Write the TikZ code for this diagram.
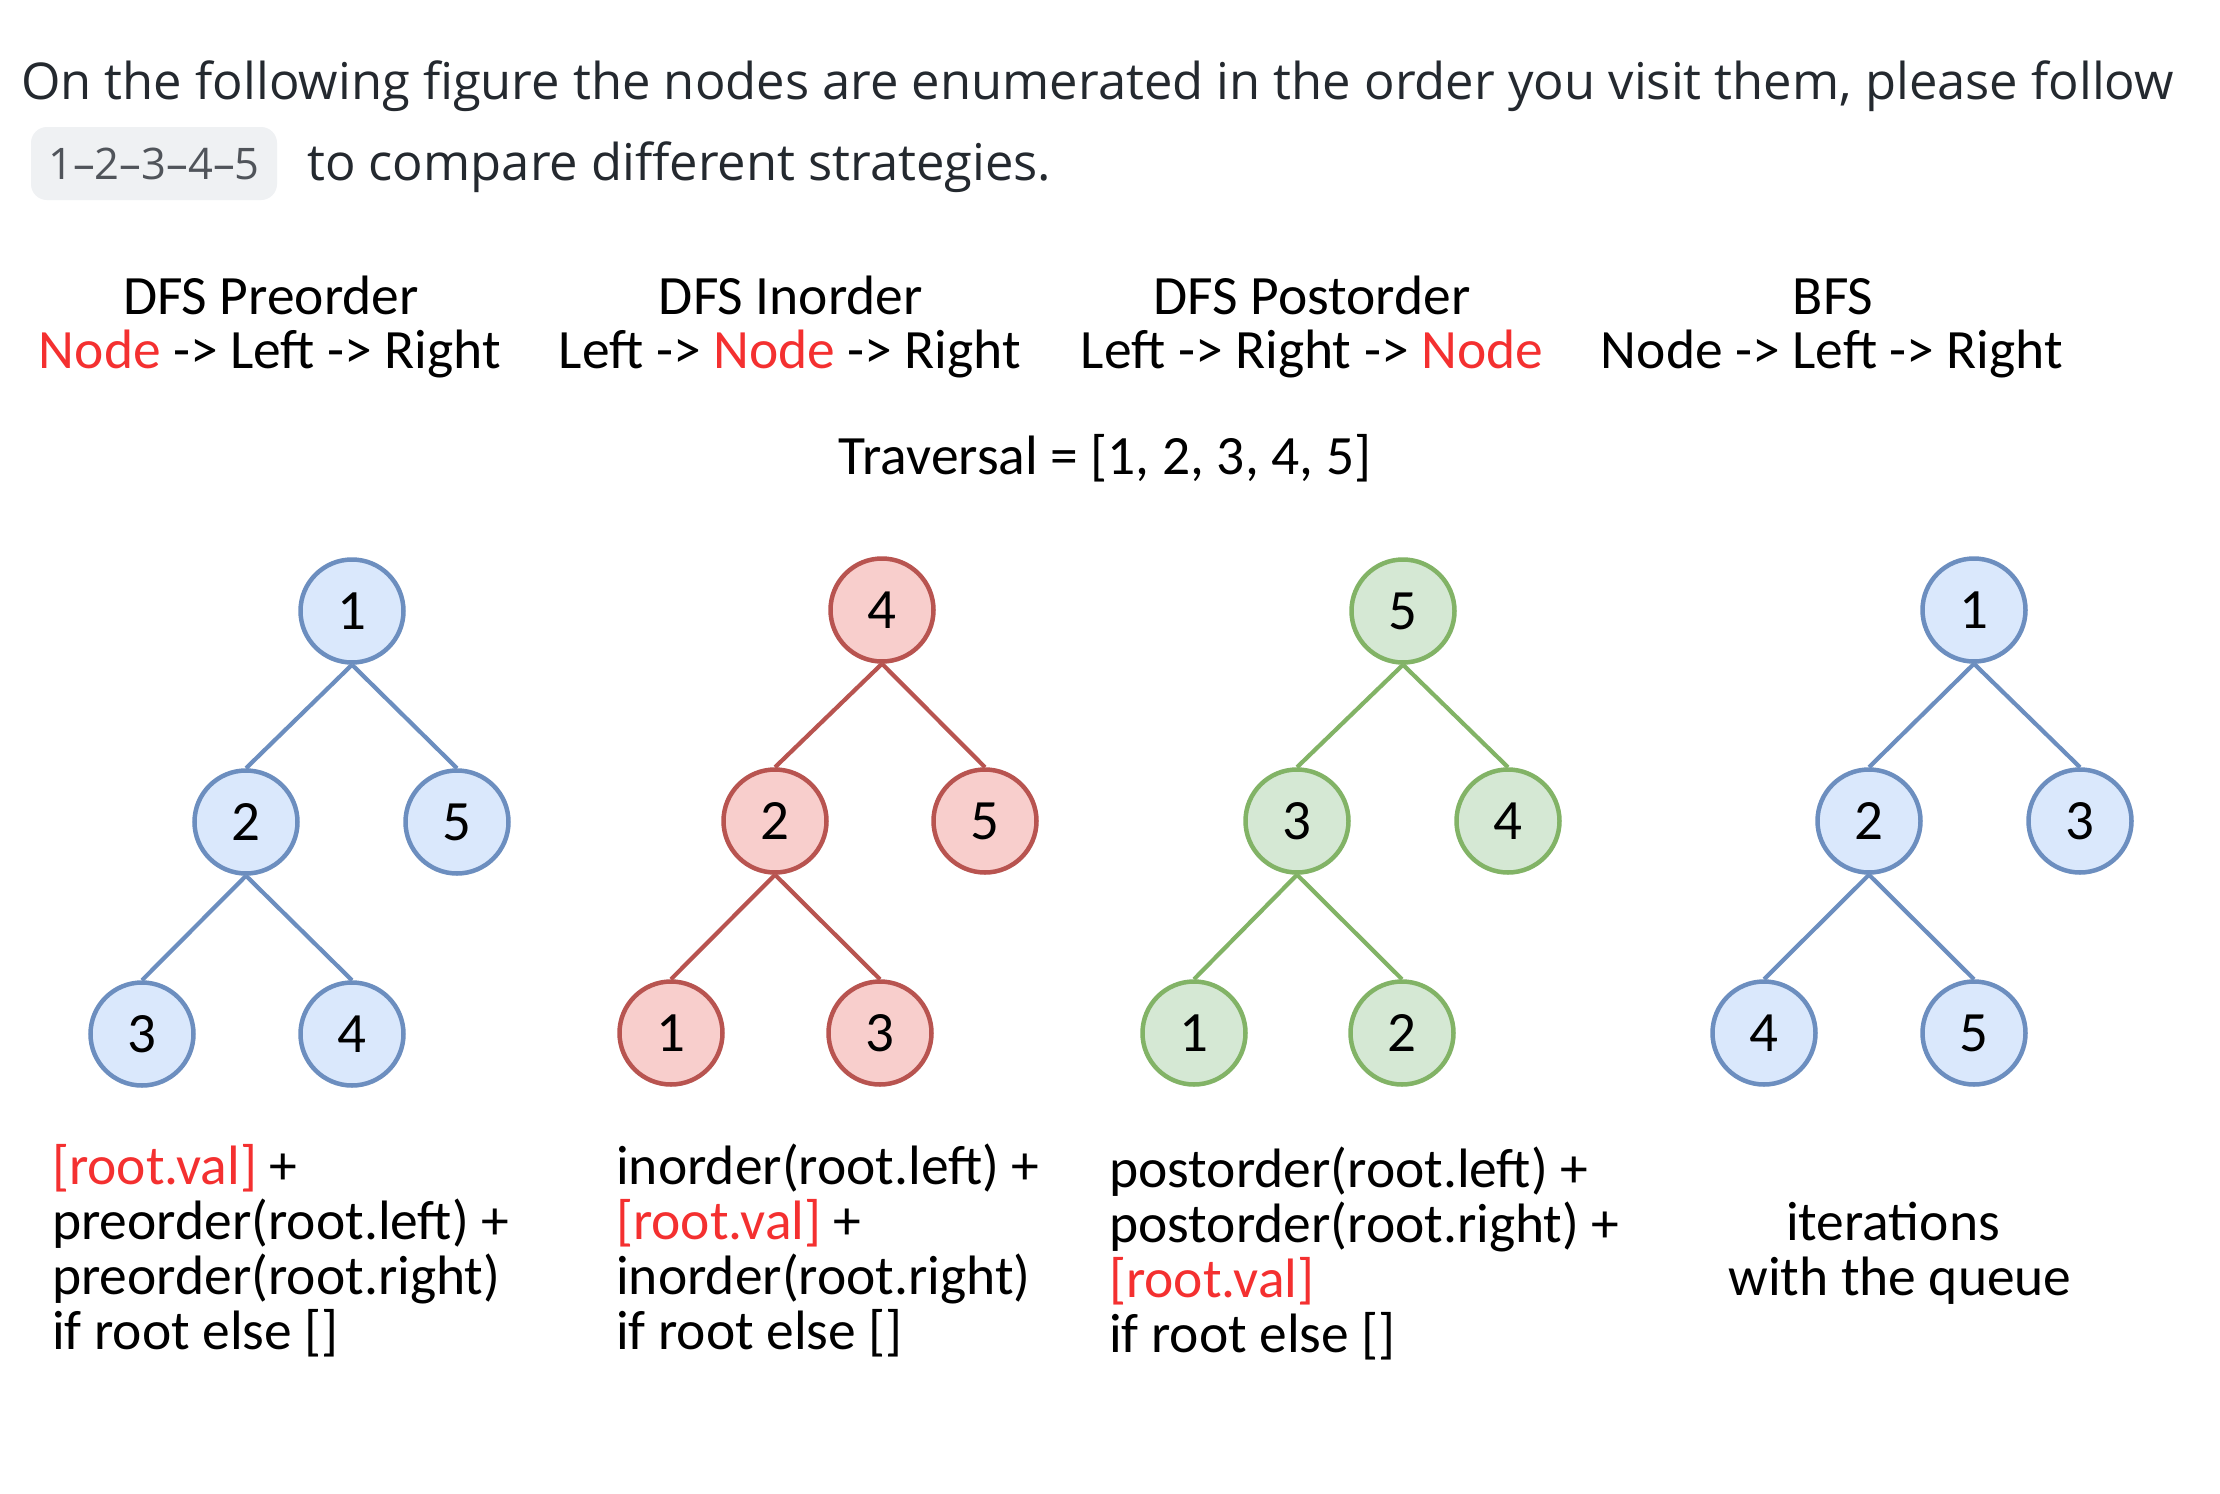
\documentclass[tikz,border=0pt]{standalone}
\usepackage{fontspec}
\setmainfont{Carlito}
\newfontfamily\uifont{Open Sans}

\definecolor{bodytext}{RGB}{36,41,47}
\definecolor{badgefill}{RGB}{239,241,243}
\definecolor{badgetext}{RGB}{80,84,90}
\definecolor{hl}{RGB}{244,48,48}
\definecolor{blueline}{RGB}{108,142,191}
\definecolor{bluefill}{RGB}{218,232,252}
\definecolor{redline}{RGB}{184,84,80}
\definecolor{redfill}{RGB}{248,206,204}
\definecolor{greenline}{RGB}{130,179,102}
\definecolor{greenfill}{RGB}{213,232,212}

\begin{document}
\begin{tikzpicture}[x=1pt,y=-1pt,
  intro/.style={anchor=base west,inner sep=0pt,text=bodytext,font=\uifont\fontsize{50.7}{50.7}\selectfont},
  hdr/.style={anchor=base,inner sep=0pt,font=\fontsize{55.5}{55.5}\selectfont},
  codeline/.style={anchor=base west,inner sep=0pt,font=\fontsize{55.5}{55.5}\selectfont},
  tnode/.style={circle,line width=4.5pt,minimum size=103pt,inner sep=0pt,font=\fontsize{57}{57}\selectfont},
  bluenode/.style={tnode,draw=blueline,fill=bluefill},
  rednode/.style={tnode,draw=redline,fill=redfill},
  greennode/.style={tnode,draw=greenline,fill=greenfill},
  blueedge/.style={draw=blueline,line width=4.2pt},
  rededge/.style={draw=redline,line width=4.2pt},
  greenedge/.style={draw=greenline,line width=4.2pt}]

\useasboundingbox (0,0) rectangle (2220,1494);
\fill[white] (0,0) rectangle (2220,1494);

% introductory sentence
\node[intro] (introA) at (21,99) {On the following figure the nodes are enumerated in the order you visit them, please follow};
\node[fill=badgefill,rounded corners=16pt,minimum width=246pt,minimum height=73pt,inner sep=0pt,
      text=badgetext,font=\uifont\fontsize{43.5}{43.5}\selectfont] (badge) at (154,163.5) {1–2–3–4–5};
\node[intro] (introB) at (307,180) {to compare different strategies.};

% strategy headings
\node[hdr] (h1a) at (271,314) {DFS Preorder};
\node[hdr] (h1b) at (270,368) {\textcolor{hl}{Node} -> Left -> Right};
\node[hdr] (h2a) at (791,314) {DFS Inorder};
\node[hdr] (h2b) at (790,368) {Left -> \textcolor{hl}{Node} -> Right};
\node[hdr] (h3a) at (1312,314) {DFS Postorder};
\node[hdr] (h3b) at (1312,368) {Left -> Right -> \textcolor{hl}{Node}};
\node[hdr] (h4a) at (1833,314) {BFS};
\node[hdr] (h4b) at (1832,368) {Node -> Left -> Right};
\node[hdr] (trav) at (1105,474) {Traversal = [1, 2, 3, 4, 5]};

% preorder tree
\node[bluenode] (p1) at (352,611) {1};
\node[bluenode] (p2) at (246,822) {2};
\node[bluenode] (p5) at (457,822) {5};
\node[bluenode] (p3) at (142,1034) {3};
\node[bluenode] (p4) at (352,1034) {4};
\draw[blueedge] (p1.south) -- (p2.north);
\draw[blueedge] (p1.south) -- (p5.north);
\draw[blueedge] (p2.south) -- (p3.north);
\draw[blueedge] (p2.south) -- (p4.north);

% inorder tree
\node[rednode] (i4) at (882,610) {4};
\node[rednode] (i2) at (775,821) {2};
\node[rednode] (i5) at (985,821) {5};
\node[rednode] (i1) at (671,1033) {1};
\node[rednode] (i3) at (880,1033) {3};
\draw[rededge] (i4.south) -- (i2.north);
\draw[rededge] (i4.south) -- (i5.north);
\draw[rededge] (i2.south) -- (i1.north);
\draw[rededge] (i2.south) -- (i3.north);

% postorder tree
\node[greennode] (o5) at (1403,611) {5};
\node[greennode] (o3) at (1297,821) {3};
\node[greennode] (o4) at (1508,821) {4};
\node[greennode] (o1) at (1194,1033) {1};
\node[greennode] (o2) at (1402,1033) {2};
\draw[greenedge] (o5.south) -- (o3.north);
\draw[greenedge] (o5.south) -- (o4.north);
\draw[greenedge] (o3.south) -- (o1.north);
\draw[greenedge] (o3.south) -- (o2.north);

% breadth-first tree
\node[bluenode] (b1) at (1974,610) {1};
\node[bluenode] (b2) at (1869,821) {2};
\node[bluenode] (b3) at (2080,821) {3};
\node[bluenode] (b4) at (1764,1033) {4};
\node[bluenode] (b5) at (1974,1033) {5};
\draw[blueedge] (b1.south) -- (b2.north);
\draw[blueedge] (b1.south) -- (b3.north);
\draw[blueedge] (b2.south) -- (b4.north);
\draw[blueedge] (b2.south) -- (b5.north);

% recursive formulas
\node[codeline] (pre1) at (52,1184) {\textcolor{hl}{[root.val]} +};
\node[codeline] (pre2) at (52,1239) {preorder(root.left) +};
\node[codeline] (pre3) at (52,1294) {preorder(root.right)};
\node[codeline] (pre4) at (52,1349) {if root else []};

\node[codeline] (in1) at (616,1184) {inorder(root.left) +};
\node[codeline] (in2) at (616,1239) {\textcolor{hl}{[root.val]} +};
\node[codeline] (in3) at (616,1294) {inorder(root.right)};
\node[codeline] (in4) at (616,1349) {if root else []};

\node[codeline] (post1) at (1109,1187) {postorder(root.left) +};
\node[codeline] (post2) at (1109,1242) {postorder(root.right) +};
\node[codeline] (post3) at (1109,1297) {\textcolor{hl}{[root.val]}};
\node[codeline] (post4) at (1109,1352) {if root else []};

\node[hdr] (bfs1) at (1893,1240) {iterations};
\node[hdr] (bfs2) at (1900,1295) {with the queue};

\end{tikzpicture}
\end{document}
